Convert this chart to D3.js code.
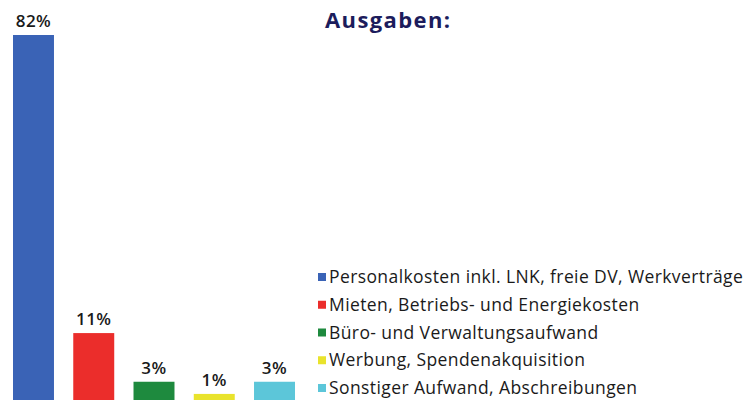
<!DOCTYPE html>
<html>
<meta charset="utf-8">
<title>Ausgaben</title>
<style>
body { margin: 0; background: #fff; }
text { font-family: "Open Sans", "Noto Sans", sans-serif; }
</style>
<body>
<div id="chart"></div>
<script src="https://d3js.org/d3.v7.min.js"></script>
<script>
var categories = ["Personalkosten inkl. LNK, freie DV, Werkverträge",
  "Mieten, Betriebs- und Energiekosten",
  "Büro- und Verwaltungsaufwand",
  "Werbung, Spendenakquisition",
  "Sonstiger Aufwand, Abschreibungen"];
var values = [82, 11, 3, 1, 3];
var labels = ["82%", "11%", "3%", "1%", "3%"];
var colors = ["#3a63b6", "#eb2d2b", "#1e8a3e", "#e9e32c", "#5cc6d9"];

var width = 747, height = 403;
var svg = d3.select("#chart").append("svg")
  .attr("width", width).attr("height", height);

// the big bar runs off the top in the original, so clamp the scale
var x = d3.scaleBand().domain(d3.range(values.length))
  .range([13, 295]).paddingInner(0.32).paddingOuter(0);
var y = d3.scaleLinear().domain([0, 60]).range([400, 35]).clamp(true);

svg.selectAll("rect.bar").data(values).enter().append("rect")
  .attr("class", "bar")
  .attr("x", function(d, i) { return x(i); })
  .attr("y", function(d) { return y(d); })
  .attr("width", x.bandwidth())
  .attr("height", function(d) { return y(0) - y(d); })
  .attr("fill", function(d, i) { return colors[i]; });

svg.selectAll("text.val").data(values).enter().append("text")
  .attr("class", "val")
  .attr("x", function(d, i) { return x(i) + x.bandwidth() / 2; })
  .attr("y", function(d) { return y(d) - 8; })
  .attr("text-anchor", "middle")
  .style("font-size", "17px")
  .style("font-weight", 600)
  .style("letter-spacing", "0.5px")
  .attr("fill", "#1a1a1a")
  .text(function(d, i) { return labels[i]; });

svg.append("text")
  .attr("x", 325).attr("y", 28)
  .style("font-size", "22px")
  .style("font-weight", 700)
  .style("letter-spacing", "1.4px")
  .attr("fill", "#1c1c5c")
  .text("Ausgaben:");

var ly = d3.scalePoint().domain(d3.range(categories.length)).range([277, 388]);
var leg = svg.selectAll("g.leg").data(categories).enter().append("g")
  .attr("class", "leg")
  .attr("transform", function(d, i) { return "translate(318," + ly(i) + ")"; });
leg.append("rect")
  .attr("x", 0).attr("y", -4).attr("width", 8).attr("height", 8)
  .attr("fill", function(d, i) { return colors[i]; });
leg.append("text")
  .attr("x", 11).attr("y", 6)
  .style("font-size", "17.5px")
  .style("font-weight", 500)
  .style("letter-spacing", "0.4px")
  .attr("fill", "#1a1a1a")
  .text(function(d) { return d; });
</script>
</body>
</html>
